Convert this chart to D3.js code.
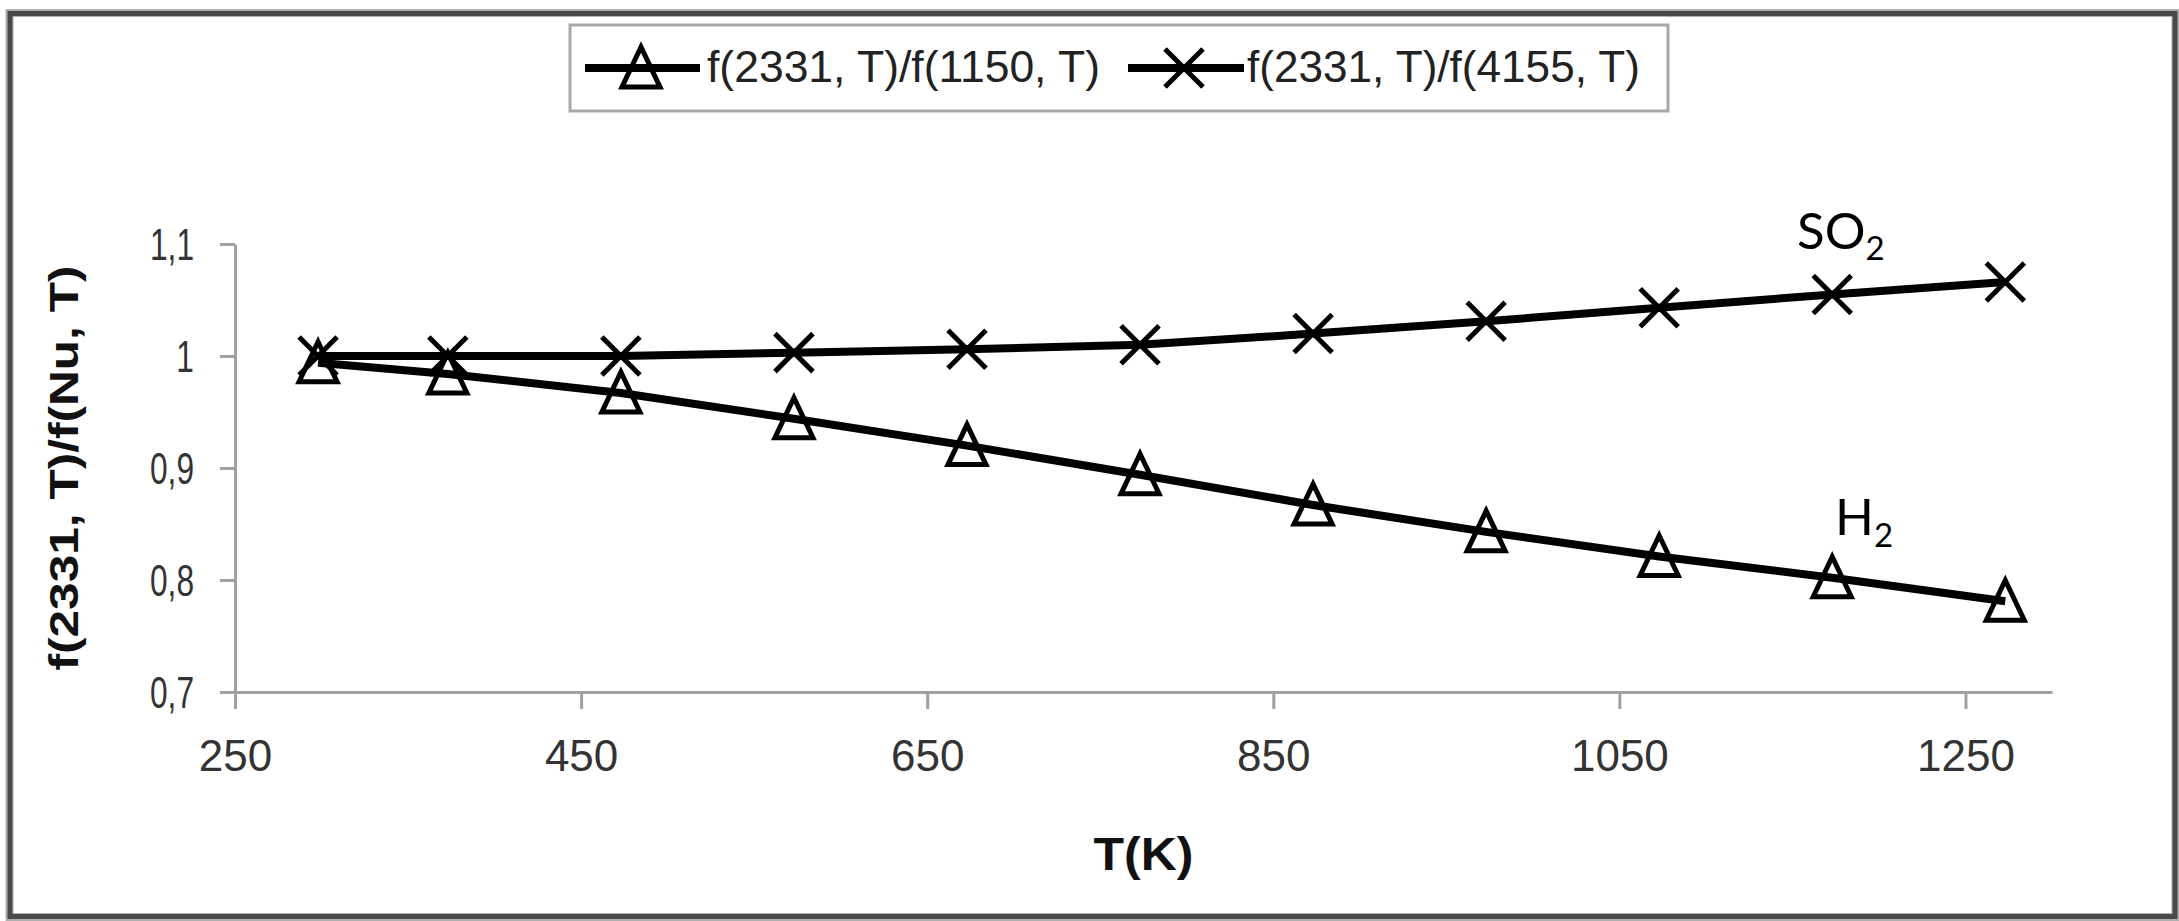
<!DOCTYPE html>
<html>
<head>
<meta charset="utf-8">
<script src="https://cdn.jsdelivr.net/npm/d3@7"></script>
<style>
  html, body { margin: 0; padding: 0; background: #fff; }
  svg { display: block; }
</style>
</head>
<body>
<svg id="chart" width="2179" height="921"></svg>
<script>
// ---- Data ----
const temps = [298, 373, 473, 573, 673, 773, 873, 973, 1073, 1173, 1273];
const ratioH2 = [0.994, 0.984, 0.967, 0.944, 0.920, 0.894, 0.867, 0.843, 0.821, 0.802, 0.781];
const ratioSO2 = [1.000, 1.000, 1.000, 1.003, 1.006, 1.010, 1.020, 1.031, 1.043, 1.055, 1.066];
const seriesNames = ["f(2331, T)/f(1150, T)", "f(2331, T)/f(4155, T)"];
const xTicks = [250, 450, 650, 850, 1050, 1250];
const yTicks = [0.7, 0.8, 0.9, 1.0, 1.1];
const yTickLabels = ["0,7", "0,8", "0,9", "1", "1,1"];
const xTitle = "T(K)";
const yTitle = "f(2331, T)/f(Nu, T)";

const svg = d3.select("#chart");

// outer frame
svg.append("rect").attr("x", 9.5).attr("y", 13).attr("width", 2166).attr("height", 904)
  .attr("fill", "none").attr("stroke", "#b0b0b0").attr("stroke-width", 8);
svg.append("rect").attr("x", 10).attr("y", 13.5).attr("width", 2165).attr("height", 903)
  .attr("fill", "none").attr("stroke", "#4a4a4a").attr("stroke-width", 5);

const x = d3.scaleLinear().domain([250, 1300]).range([235, 2052]);
const y = d3.scaleLinear().domain([0.7, 1.1]).range([692, 244]);

const axisColor = "#a0a0a0";
const tickFont = "'Liberation Sans', Arial, sans-serif";

// x axis
const gx = svg.append("g").attr("transform", `translate(0,${y(0.7)})`)
  .call(d3.axisBottom(x).tickValues(xTicks).tickSize(17).tickSizeOuter(0).tickPadding(30)
    .tickFormat(d3.format("d")));
// y axis
const gy = svg.append("g").attr("transform", `translate(${x(250)},0)`)
  .call(d3.axisLeft(y).tickValues(yTicks).tickSize(15).tickSizeOuter(0).tickPadding(26)
    .tickFormat((d, i) => yTickLabels[i]));

[gx, gy].forEach(g => {
  g.select(".domain").attr("stroke", axisColor).attr("stroke-width", 3);
  g.selectAll(".tick line").attr("stroke", axisColor).attr("stroke-width", 3);
  g.selectAll(".tick text").attr("fill", "#333").attr("font-family", tickFont)
    .attr("font-size", 44);
});
gx.selectAll(".tick text").attr("dy", "0.71em").attr("y", 48);
gy.selectAll(".tick text").attr("dy", "0.36em").each(function () {
  const w = this.getComputedTextLength();
  d3.select(this).attr("textLength", w * 0.72).attr("lengthAdjust", "spacingAndGlyphs");
});

// axis titles
svg.append("text").attr("x", (x(250) + x(1300)) / 2).attr("y", 870)
  .attr("text-anchor", "middle").attr("font-family", tickFont).attr("font-weight", "bold")
  .attr("font-size", 46).attr("fill", "#111")
  .attr("textLength", 100).attr("lengthAdjust", "spacingAndGlyphs").text(xTitle);
svg.append("text")
  .attr("transform", `translate(78,${(y(0.7) + y(1.1)) / 2}) rotate(-90)`)
  .attr("text-anchor", "middle").attr("font-family", tickFont).attr("font-weight", "bold")
  .attr("font-size", 40).attr("fill", "#111")
  .attr("textLength", 405).attr("lengthAdjust", "spacingAndGlyphs").text(yTitle);

// lines
const line = d3.line().x(d => x(d[0])).y(d => y(d[1]));
const dataH2 = temps.map((t, i) => [t, ratioH2[i]]);
const dataSO2 = temps.map((t, i) => [t, ratioSO2[i]]);

svg.append("path").datum(dataSO2).attr("d", line).attr("fill", "none")
  .attr("stroke", "#000").attr("stroke-width", 8);
svg.append("path").datum(dataH2).attr("d", line).attr("fill", "none")
  .attr("stroke", "#000").attr("stroke-width", 8);

// markers
function triangle(g, cx, cy) {
  const s = 19;
  g.append("path")
    .attr("d", `M${cx},${cy - s - 2} L${cx + s},${cy + s} L${cx - s},${cy + s} Z`)
    .attr("fill", "none").attr("stroke", "#000").attr("stroke-width", 5)
    .attr("stroke-linejoin", "miter");
}
function cross(g, cx, cy) {
  const s = 19;
  g.append("path")
    .attr("d", `M${cx - s},${cy - s} L${cx + s},${cy + s} M${cx + s},${cy - s} L${cx - s},${cy + s}`)
    .attr("fill", "none").attr("stroke", "#000").attr("stroke-width", 5);
}
const mk = svg.append("g");
dataH2.forEach(d => triangle(mk, x(d[0]), y(d[1])));
dataSO2.forEach(d => cross(mk, x(d[0]), y(d[1])));

// series labels
const labFont = "Lato, 'Open Sans', sans-serif";
const so2 = svg.append("text").attr("x", 1797).attr("y", 249)
  .attr("font-family", labFont).attr("font-size", 51).attr("fill", "#000");
so2.append("tspan").text("SO");
so2.append("tspan").attr("font-size", 33).attr("dy", 11).text("2");
const h2 = svg.append("text").attr("x", 1835).attr("y", 535)
  .attr("font-family", labFont).attr("font-size", 51).attr("fill", "#000");
h2.append("tspan").text("H");
h2.append("tspan").attr("font-size", 33).attr("dy", 12).text("2");

// legend
const lg = svg.append("g");
lg.append("rect").attr("x", 570).attr("y", 25).attr("width", 1098).attr("height", 86)
  .attr("fill", "#fff").attr("stroke", "#a8a8a8").attr("stroke-width", 3);
const legendItems = [
  { x0: 585, x1: 700, mx: 641, tx: 707, kind: "tri", name: seriesNames[0] },
  { x0: 1128, x1: 1244, mx: 1184, tx: 1247, kind: "x", name: seriesNames[1] }
];
const ly = 68;
legendItems.forEach(it => {
  lg.append("line").attr("x1", it.x0).attr("x2", it.x1).attr("y1", ly).attr("y2", ly)
    .attr("stroke", "#000").attr("stroke-width", 8);
  if (it.kind === "tri") triangle(lg, it.mx, ly); else cross(lg, it.mx, ly);
  lg.append("text").attr("x", it.tx).attr("y", ly + 14)
    .attr("font-family", tickFont).attr("font-size", 44).attr("fill", "#222")
    .attr("textLength", 393).attr("lengthAdjust", "spacingAndGlyphs").text(it.name);
});
</script>
</body>
</html>
